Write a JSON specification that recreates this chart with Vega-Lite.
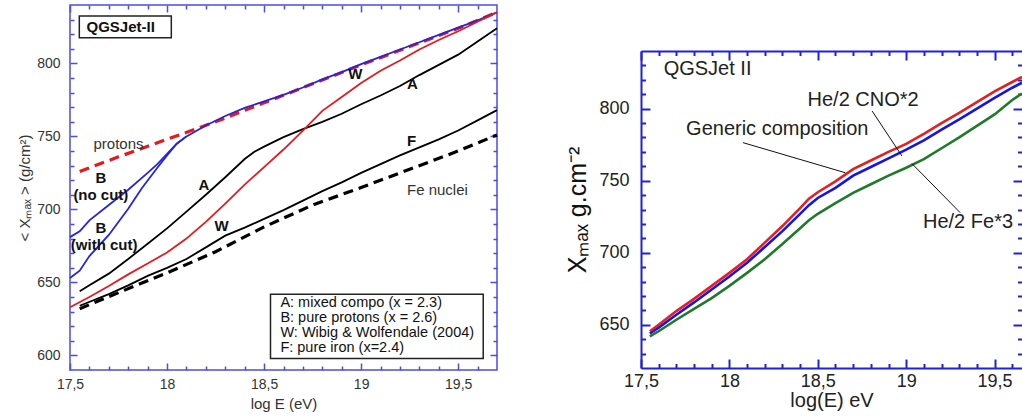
{
  "$schema": "https://vega.github.io/schema/vega-lite/v6.json",
  "padding": {"left": 16, "top": 3, "right": 0, "bottom": 0},
  "spacing": 60,
  "background": "white",
  "resolve": {"scale": {"color": "independent"}},
  "config": {
    "font": "Liberation Sans",
    "axis": {"grid": false, "labelFont": "Liberation Sans", "titleFont": "Liberation Sans"},
    "text": {"font": "Liberation Sans"}
  },
  "datasets": {
    "leftSolid": [
      {"s": "Bn", "x": 17.5, "y": 681}, {"s": "Bn", "x": 17.55, "y": 685}, {"s": "Bn", "x": 17.6, "y": 692.5}, {"s": "Bn", "x": 17.7, "y": 703}, {"s": "Bn", "x": 17.8, "y": 713.5}, {"s": "Bn", "x": 17.9, "y": 725}, {"s": "Bn", "x": 17.95, "y": 731}, {"s": "Bn", "x": 18.0, "y": 738}, {"s": "Bn", "x": 18.05, "y": 745}, {"s": "Bn", "x": 18.1, "y": 750}, {"s": "Bn", "x": 18.2, "y": 757.5}, {"s": "Bn", "x": 18.3, "y": 764}, {"s": "Bn", "x": 18.4, "y": 769.5}, {"s": "Bn", "x": 18.5, "y": 774}, {"s": "Bn", "x": 18.6, "y": 778.5}, {"s": "Bn", "x": 18.7, "y": 783.5}, {"s": "Bn", "x": 18.8, "y": 789}, {"s": "Bn", "x": 18.9, "y": 794}, {"s": "Bn", "x": 19.0, "y": 799.5}, {"s": "Bn", "x": 19.1, "y": 804.5}, {"s": "Bn", "x": 19.2, "y": 809.5}, {"s": "Bn", "x": 19.3, "y": 814.5}, {"s": "Bn", "x": 19.4, "y": 819.5}, {"s": "Bn", "x": 19.5, "y": 824.5}, {"s": "Bn", "x": 19.6, "y": 829.5}, {"s": "Bn", "x": 19.7, "y": 835},
      {"s": "Bc", "x": 17.5, "y": 653}, {"s": "Bc", "x": 17.55, "y": 658}, {"s": "Bc", "x": 17.6, "y": 668}, {"s": "Bc", "x": 17.7, "y": 682.5}, {"s": "Bc", "x": 17.8, "y": 700.5}, {"s": "Bc", "x": 17.87, "y": 714.5}, {"s": "Bc", "x": 17.95, "y": 728.5}, {"s": "Bc", "x": 18.0, "y": 737}, {"s": "Bc", "x": 18.05, "y": 745}, {"s": "Bc", "x": 18.1, "y": 750},
      {"s": "A", "x": 17.55, "y": 644}, {"s": "A", "x": 17.6, "y": 648}, {"s": "A", "x": 17.7, "y": 656}, {"s": "A", "x": 17.8, "y": 666}, {"s": "A", "x": 17.9, "y": 676.5}, {"s": "A", "x": 18.0, "y": 687}, {"s": "A", "x": 18.1, "y": 698.5}, {"s": "A", "x": 18.2, "y": 710}, {"s": "A", "x": 18.3, "y": 722}, {"s": "A", "x": 18.4, "y": 734.5}, {"s": "A", "x": 18.45, "y": 739.5}, {"s": "A", "x": 18.5, "y": 743}, {"s": "A", "x": 18.6, "y": 749.5}, {"s": "A", "x": 18.7, "y": 755}, {"s": "A", "x": 18.8, "y": 760}, {"s": "A", "x": 18.9, "y": 765.5}, {"s": "A", "x": 19.0, "y": 772}, {"s": "A", "x": 19.1, "y": 778}, {"s": "A", "x": 19.2, "y": 784.5}, {"s": "A", "x": 19.3, "y": 792}, {"s": "A", "x": 19.4, "y": 799}, {"s": "A", "x": 19.5, "y": 806}, {"s": "A", "x": 19.6, "y": 815}, {"s": "A", "x": 19.7, "y": 824},
      {"s": "W", "x": 17.5, "y": 633}, {"s": "W", "x": 17.6, "y": 640}, {"s": "W", "x": 17.7, "y": 647.5}, {"s": "W", "x": 17.8, "y": 655.5}, {"s": "W", "x": 17.9, "y": 663}, {"s": "W", "x": 18.0, "y": 670.5}, {"s": "W", "x": 18.1, "y": 680}, {"s": "W", "x": 18.2, "y": 691.5}, {"s": "W", "x": 18.3, "y": 704}, {"s": "W", "x": 18.4, "y": 717}, {"s": "W", "x": 18.5, "y": 729}, {"s": "W", "x": 18.6, "y": 741}, {"s": "W", "x": 18.7, "y": 754}, {"s": "W", "x": 18.8, "y": 767.5}, {"s": "W", "x": 18.9, "y": 777}, {"s": "W", "x": 19.0, "y": 786.5}, {"s": "W", "x": 19.1, "y": 795}, {"s": "W", "x": 19.2, "y": 802}, {"s": "W", "x": 19.3, "y": 809.5}, {"s": "W", "x": 19.4, "y": 816}, {"s": "W", "x": 19.5, "y": 822}, {"s": "W", "x": 19.6, "y": 828.5}, {"s": "W", "x": 19.7, "y": 835},
      {"s": "F", "x": 17.55, "y": 634}, {"s": "F", "x": 17.7, "y": 642}, {"s": "F", "x": 17.8, "y": 648}, {"s": "F", "x": 17.9, "y": 654.5}, {"s": "F", "x": 18.0, "y": 660}, {"s": "F", "x": 18.1, "y": 666}, {"s": "F", "x": 18.2, "y": 674}, {"s": "F", "x": 18.3, "y": 682}, {"s": "F", "x": 18.4, "y": 687.5}, {"s": "F", "x": 18.5, "y": 693.5}, {"s": "F", "x": 18.6, "y": 699.5}, {"s": "F", "x": 18.7, "y": 706}, {"s": "F", "x": 18.8, "y": 712.5}, {"s": "F", "x": 18.9, "y": 718.5}, {"s": "F", "x": 19.0, "y": 725}, {"s": "F", "x": 19.1, "y": 731}, {"s": "F", "x": 19.2, "y": 737}, {"s": "F", "x": 19.3, "y": 742.5}, {"s": "F", "x": 19.4, "y": 748}, {"s": "F", "x": 19.5, "y": 754}, {"s": "F", "x": 19.6, "y": 761}, {"s": "F", "x": 19.7, "y": 768}
    ],
    "leftDashed": [
      {"s": "p", "x": 17.55, "y": 726}, {"s": "p", "x": 17.75, "y": 736}, {"s": "p", "x": 18.0, "y": 748}, {"s": "p", "x": 18.25, "y": 760}, {"s": "p", "x": 18.5, "y": 773}, {"s": "p", "x": 18.75, "y": 786}, {"s": "p", "x": 19.0, "y": 799}, {"s": "p", "x": 19.25, "y": 811.5}, {"s": "p", "x": 19.5, "y": 824}, {"s": "p", "x": 19.7, "y": 835},
      {"s": "Fe", "x": 17.55, "y": 632}, {"s": "Fe", "x": 17.75, "y": 643}, {"s": "Fe", "x": 18.0, "y": 656.5}, {"s": "Fe", "x": 18.25, "y": 671}, {"s": "Fe", "x": 18.5, "y": 688}, {"s": "Fe", "x": 18.75, "y": 703}, {"s": "Fe", "x": 19.0, "y": 715}, {"s": "Fe", "x": 19.25, "y": 727.5}, {"s": "Fe", "x": 19.5, "y": 740}, {"s": "Fe", "x": 19.7, "y": 751}
    ],
    "leftBold": [
      {"t": "B", "x": 17.659, "y": 721.2}, {"t": "(no cut)", "x": 17.659, "y": 709.6}, {"t": "B", "x": 17.659, "y": 687.2}, {"t": "(with cut)", "x": 17.676, "y": 675.5},
      {"t": "A", "x": 18.19, "y": 716.6}, {"t": "W", "x": 18.281, "y": 688.6}, {"t": "W", "x": 18.97, "y": 792.5}, {"t": "A", "x": 19.264, "y": 786}, {"t": "F", "x": 19.26, "y": 746.8}
    ],
    "leftNormal": [
      {"t": "protons", "x": 17.75, "y": 744.9}, {"t": "Fe nuclei", "x": 19.393, "y": 713.2}
    ],
    "leftBox": [{"x": 18.533, "x2": 19.629, "y": 597.9, "y2": 641.8}],
    "leftLegend": [
      {"t": "A: mixed compo (x = 2.3)", "x": 18.584, "y": 636},
      {"t": "B: pure protons (x = 2.6)", "x": 18.584, "y": 625.8},
      {"t": "W: Wibig & Wolfendale (2004)", "x": 18.584, "y": 615.5},
      {"t": "F: pure iron (x=2.4)", "x": 18.584, "y": 605.2}
    ],
    "leftTitleBox": [{"x": 17.548, "x2": 18.022, "y": 817.5, "y2": 832.4}],
    "leftTitle": [{"t": "QGSJet-II", "x": 17.585, "y": 824.9}],
    "rightLines": [
      {"s": "G", "x": 17.55, "y": 642}, {"s": "G", "x": 17.6, "y": 645.5}, {"s": "G", "x": 17.7, "y": 653.5}, {"s": "G", "x": 17.8, "y": 661}, {"s": "G", "x": 17.9, "y": 668.5}, {"s": "G", "x": 18.0, "y": 677}, {"s": "G", "x": 18.1, "y": 686}, {"s": "G", "x": 18.2, "y": 695.5}, {"s": "G", "x": 18.3, "y": 706}, {"s": "G", "x": 18.4, "y": 717}, {"s": "G", "x": 18.45, "y": 722.5}, {"s": "G", "x": 18.5, "y": 727}, {"s": "G", "x": 18.6, "y": 734.5}, {"s": "G", "x": 18.7, "y": 741.5}, {"s": "G", "x": 18.8, "y": 747.5}, {"s": "G", "x": 18.9, "y": 753.5}, {"s": "G", "x": 19.0, "y": 759}, {"s": "G", "x": 19.1, "y": 765}, {"s": "G", "x": 19.2, "y": 772.5}, {"s": "G", "x": 19.3, "y": 780}, {"s": "G", "x": 19.4, "y": 788}, {"s": "G", "x": 19.5, "y": 796}, {"s": "G", "x": 19.6, "y": 806}, {"s": "G", "x": 19.655, "y": 810.5},
      {"s": "B", "x": 17.55, "y": 644}, {"s": "B", "x": 17.6, "y": 648}, {"s": "B", "x": 17.7, "y": 657}, {"s": "B", "x": 17.8, "y": 665.5}, {"s": "B", "x": 17.9, "y": 674.5}, {"s": "B", "x": 18.0, "y": 683.5}, {"s": "B", "x": 18.1, "y": 693}, {"s": "B", "x": 18.2, "y": 704}, {"s": "B", "x": 18.3, "y": 715}, {"s": "B", "x": 18.4, "y": 727}, {"s": "B", "x": 18.45, "y": 733}, {"s": "B", "x": 18.5, "y": 738}, {"s": "B", "x": 18.6, "y": 745}, {"s": "B", "x": 18.7, "y": 753.5}, {"s": "B", "x": 18.8, "y": 759.5}, {"s": "B", "x": 18.9, "y": 765.5}, {"s": "B", "x": 19.0, "y": 771.5}, {"s": "B", "x": 19.1, "y": 778}, {"s": "B", "x": 19.2, "y": 785.5}, {"s": "B", "x": 19.3, "y": 792.5}, {"s": "B", "x": 19.4, "y": 800}, {"s": "B", "x": 19.5, "y": 807.5}, {"s": "B", "x": 19.6, "y": 814.5}, {"s": "B", "x": 19.655, "y": 818},
      {"s": "R", "x": 17.55, "y": 645.5}, {"s": "R", "x": 17.6, "y": 650}, {"s": "R", "x": 17.7, "y": 659.5}, {"s": "R", "x": 17.8, "y": 668}, {"s": "R", "x": 17.9, "y": 677}, {"s": "R", "x": 18.0, "y": 686}, {"s": "R", "x": 18.1, "y": 695.5}, {"s": "R", "x": 18.2, "y": 707}, {"s": "R", "x": 18.3, "y": 718.5}, {"s": "R", "x": 18.4, "y": 731}, {"s": "R", "x": 18.45, "y": 737.5}, {"s": "R", "x": 18.5, "y": 742}, {"s": "R", "x": 18.6, "y": 749.5}, {"s": "R", "x": 18.7, "y": 758}, {"s": "R", "x": 18.8, "y": 764}, {"s": "R", "x": 18.9, "y": 770}, {"s": "R", "x": 19.0, "y": 775.5}, {"s": "R", "x": 19.1, "y": 782.5}, {"s": "R", "x": 19.2, "y": 790}, {"s": "R", "x": 19.3, "y": 797}, {"s": "R", "x": 19.4, "y": 804.5}, {"s": "R", "x": 19.5, "y": 812}, {"s": "R", "x": 19.6, "y": 818.5}, {"s": "R", "x": 19.655, "y": 822}
    ],
    "rightRule1": [{"x": 18.077, "y": 776.4, "x2": 18.656, "y2": 755.5}],
    "rightRule2": [
      {"x": 18.807, "y": 798.4, "x2": 18.976, "y2": 767.1},
      {"x": 19.033, "y": 761.8, "x2": 19.306, "y2": 727.7}
    ],
    "rightTexts": [
      {"t": "He/2 CNO*2", "x": 18.442, "y": 806},
      {"t": "Generic composition", "x": 17.755, "y": 785.7},
      {"t": "He/2 Fe*3", "x": 19.095, "y": 721.2}
    ],
    "rightTitle": [{"t": "QGSJet II", "x": 17.628, "y": 827.4}],
    "spacer": [{"t": ""}]
  },
  "hconcat": [
    {
      "width": 427,
      "height": 365,
      "view": {"stroke": "#4b4bef", "strokeWidth": 1.5},
      "resolve": {"axis": {"x": "independent", "y": "independent"}, "scale": {"color": "independent"}},
      "layer": [
        {
          "data": {"name": "leftDashed"},
          "mark": {"type": "line", "strokeWidth": 3.2, "strokeDash": [10, 6]},
          "encoding": {
            "x": {"field": "x", "type": "quantitative", "scale": {"domain": [17.5, 19.7], "nice": false, "zero": false},
              "axis": {"orient": "bottom", "values": [17.5, 18, 18.5, 19, 19.5], "labels": false, "domain": false, "ticks": true, "tickSize": -7, "tickColor": "#4b4bef", "tickWidth": 1.5, "title": null}},
            "y": {"field": "y", "type": "quantitative", "scale": {"domain": [590, 840], "nice": false, "zero": false},
              "axis": {"orient": "left", "values": [600, 650, 700, 750, 800], "labels": false, "domain": false, "ticks": true, "tickSize": -7, "tickColor": "#4b4bef", "tickWidth": 1.5, "title": null}},
            "color": {"field": "s", "type": "nominal", "legend": null, "scale": {"domain": ["p", "Fe"], "range": ["#e8191e", "#000000"]}}
          }
        },
        {
          "data": {"name": "leftSolid"},
          "mark": {"type": "line", "strokeWidth": 1.8},
          "encoding": {
            "x": {"field": "x", "type": "quantitative", "scale": {"domain": [17.5, 19.7], "nice": false, "zero": false},
              "axis": {"orient": "bottom", "values": [17.5, 18, 18.5, 19, 19.5], "format": "~g", "labelExpr": "replace(datum.label, '.', ',')", "ticks": false, "domain": false, "labelFlush": false, "labelOverlap": false, "labelPadding": 7, "labelFontSize": 14, "labelColor": "#333", "title": "log E (eV)", "titleFontSize": 15, "titleFontWeight": "normal", "titleColor": "#333", "titlePadding": 5}},
            "y": {"field": "y", "type": "quantitative", "scale": {"domain": [590, 840], "nice": false, "zero": false},
              "axis": {"orient": "left", "values": [600, 650, 700, 750, 800], "format": "d", "ticks": false, "domain": false, "labelFlush": false, "labelOverlap": false, "labelPadding": 10, "labelFontSize": 14, "labelColor": "#333", "title": "< Xₘₐₓ > (g/cm²)", "titleFontSize": 15, "titleFontWeight": "normal", "titleColor": "#333", "titlePadding": 4}},
            "color": {"field": "s", "type": "nominal", "legend": null, "scale": {"domain": ["Bn", "Bc", "A", "W", "F"], "range": ["#2424e0", "#2424e0", "#000000", "#e8191e", "#000000"]}}
          }
        },
        {
          "data": {"name": "leftBold"},
          "mark": {"type": "text", "fontSize": 15, "fontWeight": "bold", "align": "center", "baseline": "middle", "color": "#111"},
          "encoding": {
            "x": {"field": "x", "type": "quantitative", "scale": {"domain": [17.5, 19.7], "nice": false, "zero": false},
              "axis": {"orient": "bottom", "values": [17.6, 17.7, 17.8, 17.9, 18.1, 18.2, 18.3, 18.4, 18.6, 18.7, 18.8, 18.9, 19.1, 19.2, 19.3, 19.4, 19.6], "labels": false, "domain": false, "ticks": true, "tickSize": -4, "tickColor": "#4b4bef", "tickWidth": 1.5, "title": null}},
            "y": {"field": "y", "type": "quantitative", "scale": {"domain": [590, 840], "nice": false, "zero": false},
              "axis": {"orient": "left", "values": [610, 620, 630, 640, 660, 670, 680, 690, 710, 720, 730, 740, 760, 770, 780, 790, 810, 820, 830], "labels": false, "domain": false, "ticks": true, "tickSize": -4, "tickColor": "#4b4bef", "tickWidth": 1.5, "title": null}},
            "text": {"field": "t"}
          }
        },
        {
          "data": {"name": "leftNormal"},
          "mark": {"type": "text", "fontSize": 15, "align": "center", "baseline": "middle", "color": "#333"},
          "encoding": {
            "x": {"field": "x", "type": "quantitative", "scale": {"domain": [17.5, 19.7], "nice": false, "zero": false},
              "axis": {"orient": "top", "values": [17.5, 18, 18.5, 19, 19.5], "labels": false, "domain": false, "ticks": true, "tickSize": -7, "tickColor": "#4b4bef", "tickWidth": 1.5, "title": null}},
            "y": {"field": "y", "type": "quantitative", "scale": {"domain": [590, 840], "nice": false, "zero": false},
              "axis": {"orient": "right", "values": [600, 650, 700, 750, 800], "labels": false, "domain": false, "ticks": true, "tickSize": -7, "tickColor": "#4b4bef", "tickWidth": 1.5, "title": null}},
            "text": {"field": "t"}
          }
        },
        {
          "data": {"name": "leftBox"},
          "mark": {"type": "rect", "fill": "white", "stroke": "#222", "strokeWidth": 1.5},
          "encoding": {
            "x": {"field": "x", "type": "quantitative", "scale": {"domain": [17.5, 19.7], "nice": false, "zero": false},
              "axis": {"orient": "top", "values": [17.6, 17.7, 17.8, 17.9, 18.1, 18.2, 18.3, 18.4, 18.6, 18.7, 18.8, 18.9, 19.1, 19.2, 19.3, 19.4, 19.6], "labels": false, "domain": false, "ticks": true, "tickSize": -4, "tickColor": "#4b4bef", "tickWidth": 1.5, "title": null}},
            "x2": {"field": "x2"},
            "y": {"field": "y", "type": "quantitative", "scale": {"domain": [590, 840], "nice": false, "zero": false},
              "axis": {"orient": "right", "values": [610, 620, 630, 640, 660, 670, 680, 690, 710, 720, 730, 740, 760, 770, 780, 790, 810, 820, 830], "labels": false, "domain": false, "ticks": true, "tickSize": -4, "tickColor": "#4b4bef", "tickWidth": 1.5, "title": null}},
            "y2": {"field": "y2"}
          }
        },
        {
          "data": {"name": "leftLegend"},
          "mark": {"type": "text", "fontSize": 14.5, "align": "left", "baseline": "middle", "color": "#111"},
          "encoding": {
            "x": {"field": "x", "type": "quantitative", "scale": {"domain": [17.5, 19.7], "nice": false, "zero": false}, "axis": null},
            "y": {"field": "y", "type": "quantitative", "scale": {"domain": [590, 840], "nice": false, "zero": false}, "axis": null},
            "text": {"field": "t"}
          }
        },
        {
          "data": {"name": "leftTitleBox"},
          "mark": {"type": "rect", "fill": "white", "stroke": "#222", "strokeWidth": 1.5},
          "encoding": {
            "x": {"field": "x", "type": "quantitative", "scale": {"domain": [17.5, 19.7], "nice": false, "zero": false}, "axis": null},
            "x2": {"field": "x2"},
            "y": {"field": "y", "type": "quantitative", "scale": {"domain": [590, 840], "nice": false, "zero": false}, "axis": null},
            "y2": {"field": "y2"}
          }
        },
        {
          "data": {"name": "leftTitle"},
          "mark": {"type": "text", "fontSize": 15, "fontWeight": "bold", "align": "left", "baseline": "middle", "color": "#111"},
          "encoding": {
            "x": {"field": "x", "type": "quantitative", "scale": {"domain": [17.5, 19.7], "nice": false, "zero": false}, "axis": null},
            "y": {"field": "y", "type": "quantitative", "scale": {"domain": [590, 840], "nice": false, "zero": false}, "axis": null},
            "text": {"field": "t"}
          }
        }
      ]
    },
    {
      "spacing": 0,
      "vconcat": [
        {
          "width": 381,
          "height": 45,
          "view": {"stroke": null},
          "data": {"name": "spacer"},
          "mark": {"type": "text", "opacity": 0},
          "encoding": {"text": {"field": "t"}}
        },
        {
          "width": 381,
          "height": 317,
          "view": {"stroke": null},
          "resolve": {"axis": {"x": "independent", "y": "independent"}, "scale": {"color": "independent"}},
          "layer": [
            {
              "data": {"name": "rightLines"},
              "mark": {"type": "line", "strokeWidth": 2.6},
              "encoding": {
                "x": {"field": "x", "type": "quantitative", "scale": {"domain": [17.5, 19.655], "nice": false, "zero": false},
                  "axis": {"orient": "bottom", "values": [17.5, 18, 18.5, 19, 19.5], "format": "~g", "labelExpr": "replace(datum.label, '.', ',')", "ticks": false, "domain": true, "domainColor": "#2020dd", "domainWidth": 2, "labelFlush": false, "labelOverlap": false, "labelPadding": 4, "labelFontSize": 18, "labelColor": "#222", "title": "log(E) eV", "titleFontSize": 20, "titleFontWeight": "normal", "titleColor": "#222", "titlePadding": 0}},
                "y": {"field": "y", "type": "quantitative", "scale": {"domain": [620, 840], "nice": false, "zero": false},
                  "axis": {"orient": "left", "values": [650, 700, 750, 800], "format": "d", "ticks": false, "domain": true, "domainColor": "#2020dd", "domainWidth": 2, "labelFlush": false, "labelOverlap": false, "labelPadding": 12, "labelFontSize": 18, "labelColor": "#222", "title": "Xₘₐₓ g.cm⁻²", "titleFontSize": 25, "titleFontWeight": "normal", "titleColor": "#111", "titlePadding": 8}},
                "color": {"field": "s", "type": "nominal", "legend": null, "scale": {"domain": ["G", "B", "R"], "range": ["#1f7a2a", "#1414e6", "#e61e1e"]}}
              }
            },
            {
              "data": {"name": "rightRule1"},
              "mark": {"type": "rule", "color": "#111", "strokeWidth": 1},
              "encoding": {
                "x": {"field": "x", "type": "quantitative", "scale": {"domain": [17.5, 19.655], "nice": false, "zero": false},
                  "axis": {"orient": "bottom", "values": [17.5, 18, 18.5, 19, 19.5], "labels": false, "domain": false, "ticks": true, "tickSize": -9, "tickColor": "#2020dd", "tickWidth": 2, "title": null}},
                "x2": {"field": "x2"},
                "y": {"field": "y", "type": "quantitative", "scale": {"domain": [620, 840], "nice": false, "zero": false},
                  "axis": {"orient": "left", "values": [650, 700, 750, 800], "labels": false, "domain": false, "ticks": true, "tickSize": -9, "tickColor": "#2020dd", "tickWidth": 2, "title": null}},
                "y2": {"field": "y2"}
              }
            },
            {
              "data": {"name": "rightTexts"},
              "mark": {"type": "text", "fontSize": 20, "align": "left", "baseline": "middle", "color": "#222"},
              "encoding": {
                "x": {"field": "x", "type": "quantitative", "scale": {"domain": [17.5, 19.655], "nice": false, "zero": false},
                  "axis": {"orient": "bottom", "values": [17.6, 17.7, 17.8, 17.9, 18.1, 18.2, 18.3, 18.4, 18.6, 18.7, 18.8, 18.9, 19.1, 19.2, 19.3, 19.4, 19.6], "labels": false, "domain": false, "ticks": true, "tickSize": -4.5, "tickColor": "#2020dd", "tickWidth": 2, "title": null}},
                "y": {"field": "y", "type": "quantitative", "scale": {"domain": [620, 840], "nice": false, "zero": false},
                  "axis": {"orient": "left", "values": [630, 640, 660, 670, 680, 690, 710, 720, 730, 740, 760, 770, 780, 790, 810, 820, 830], "labels": false, "domain": false, "ticks": true, "tickSize": -4.5, "tickColor": "#2020dd", "tickWidth": 2, "title": null}},
                "text": {"field": "t"}
              }
            },
            {
              "data": {"name": "rightTitle"},
              "mark": {"type": "text", "fontSize": 20, "align": "left", "baseline": "middle", "color": "#222"},
              "encoding": {
                "x": {"field": "x", "type": "quantitative", "scale": {"domain": [17.5, 19.655], "nice": false, "zero": false},
                  "axis": {"orient": "top", "values": [17.5, 18, 18.5, 19, 19.5], "labels": false, "domain": true, "domainColor": "#2020dd", "domainWidth": 2, "ticks": true, "tickSize": -9, "tickColor": "#2020dd", "tickWidth": 2, "title": null}},
                "y": {"field": "y", "type": "quantitative", "scale": {"domain": [620, 840], "nice": false, "zero": false},
                  "axis": {"orient": "right", "values": [650, 700, 750, 800], "labels": false, "domain": false, "ticks": true, "tickSize": -9, "tickColor": "#2020dd", "tickWidth": 2, "title": null}},
                "text": {"field": "t"}
              }
            },
            {
              "data": {"name": "rightRule2"},
              "mark": {"type": "rule", "color": "#111", "strokeWidth": 1},
              "encoding": {
                "x": {"field": "x", "type": "quantitative", "scale": {"domain": [17.5, 19.655], "nice": false, "zero": false},
                  "axis": {"orient": "top", "values": [17.6, 17.7, 17.8, 17.9, 18.1, 18.2, 18.3, 18.4, 18.6, 18.7, 18.8, 18.9, 19.1, 19.2, 19.3, 19.4, 19.6], "labels": false, "domain": false, "ticks": true, "tickSize": -4.5, "tickColor": "#2020dd", "tickWidth": 2, "title": null}},
                "x2": {"field": "x2"},
                "y": {"field": "y", "type": "quantitative", "scale": {"domain": [620, 840], "nice": false, "zero": false},
                  "axis": {"orient": "right", "values": [630, 640, 660, 670, 680, 690, 710, 720, 730, 740, 760, 770, 780, 790, 810, 820, 830], "labels": false, "domain": false, "ticks": true, "tickSize": -4.5, "tickColor": "#2020dd", "tickWidth": 2, "title": null}},
                "y2": {"field": "y2"}
              }
            }
          ]
        }
      ]
    }
  ]
}
